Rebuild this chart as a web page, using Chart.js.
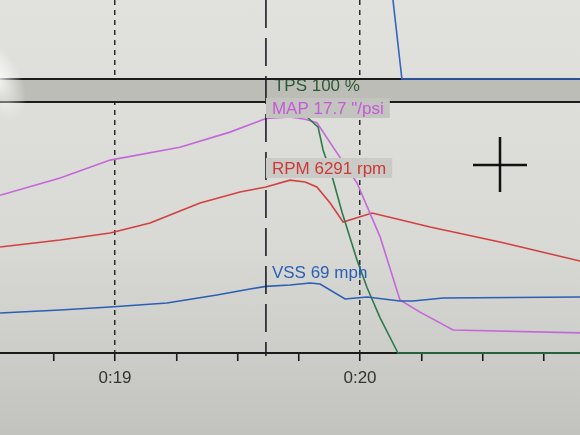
<!DOCTYPE html>
<html>
<head>
<meta charset="utf-8">
<title>Datalog</title>
<script src="https://cdn.jsdelivr.net/npm/chart.js@4.4.1/dist/chart.umd.min.js"></script>
<style>
    html, body { margin: 0; padding: 0; }
    body {
        width: 580px;
        height: 435px;
        overflow: hidden;
        background: linear-gradient(180deg, #e1e1de 0%, #d9d9d5 55%, #cdcdc9 80%, #c2c2be 100%);
    }
    .log { position: relative; width: 580px; height: 435px; }
    /* glare from the photo */
    .glare {
        position: absolute;
        left: -30px;
        top: 30px;
        width: 50px;
        height: 95px;
        background: radial-gradient(ellipse at center, rgba(255,255,255,0.9) 0%, rgba(255,255,255,0) 70%);
        transform: rotate(-30deg);
        pointer-events: none;
    }
</style>
</head>
<body>
<div class="log"><canvas id="logChart"></canvas><div class="glare"></div></div>
<script>
// time in seconds
const upperTime = [18.531, 20.120, 20.171, 20.898];
const upperValues = [140, 140, 0, 0];

const tpsTime = [18.531, 19.747, 19.784, 19.829, 19.849, 19.890, 19.927, 19.988, 20.029, 20.082, 20.155, 20.898];
const tpsValues = [100, 100, 94, 90, 81, 69, 56, 37, 26, 14, 0, 0];

const mapTime = [18.531, 18.776, 18.980, 19.265, 19.469, 19.616, 19.714, 19.776, 19.824, 19.906, 19.988, 20.082, 20.163, 20.245, 20.380, 20.898];
const mapValues = [7.0, 9.4, 11.9, 13.7, 15.8, 17.7, 17.9, 17.6, 17.1, 12.9, 8.7, 1.2, -7.6, -9.3, -11.8, -12.2];

const rpmTime = [18.531, 18.776, 18.980, 19.143, 19.347, 19.510, 19.616, 19.714, 19.776, 19.824, 19.878, 19.931, 20.049, 20.151, 20.286, 20.571, 20.898];
const rpmValues = [4380, 4600, 4825, 5140, 5780, 6130, 6291, 6510, 6450, 6290, 5780, 5175, 5460, 5270, 5015, 4540, 3930];

const vssTime = [18.531, 18.776, 18.980, 19.212, 19.416, 19.551, 19.616, 19.714, 19.796, 19.837, 19.939, 20.029, 20.163, 20.216, 20.339, 20.898];
const vssValues = [41.4, 44.5, 47.7, 51.8, 60.1, 66.3, 69, 70.4, 72.5, 71.5, 55.9, 58.0, 53.9, 53.9, 57.0, 58.0];

const cursorTime = 19.616;
const readouts = [
    { name: 'TPS', value: '100', unit: '%' },
    { name: 'MAP', value: '17.7', unit: '"/psi' },
    { name: 'RPM', value: '6291', unit: 'rpm' },
    { name: 'VSS', value: '69', unit: 'mph' }
];

const AREA_H = 353;
const BAND_TOP = 79;
const BAND_BOTTOM = 102;

// every channel gets its own hidden axis, placed inside its panel
function fitAxis(lo, hi, pTop, pBot) {
    const perPx = (hi - lo) / (pBot - pTop);
    return { min: lo - (AREA_H - pBot) * perPx, max: hi + pTop * perPx, display: false };
}

const pts = (t, v) => t.map((x, i) => ({ x: x, y: v[i] }));
const mainClip = { left: 0, right: 0, bottom: 4, top: -(BAND_BOTTOM + 1) };

const labelFont = '17px "Liberation Sans", Arial, sans-serif';
const tagText = r => r.name + ' ' + r.value + ' ' + r.unit;

function tag(ctx, text, x, y, color, bg) {
    ctx.font = labelFont;
    const w = ctx.measureText(text).width;
    if (bg) {
        ctx.fillStyle = bg;
        ctx.fillRect(x, y - 10, w + 12, 20);
    }
    ctx.fillStyle = color;
    ctx.textBaseline = 'middle';
    ctx.textAlign = 'left';
    ctx.fillText(text, x + 6, y + 1);
}

function hline(ctx, x1, x2, y) {
    ctx.beginPath();
    ctx.moveTo(x1, y);
    ctx.lineTo(x2, y);
    ctx.stroke();
}

const screenBits = {
    id: 'screenBits',
    beforeDatasetsDraw(chart) {
        const { ctx, width } = chart;
        const cx = chart.scales.x.getPixelForValue(cursorTime);
        ctx.save();
        ctx.fillStyle = '#bcbdb6';
        ctx.fillRect(0, BAND_TOP, width, BAND_BOTTOM - BAND_TOP);
        tag(ctx, tagText(readouts[0]), cx + 2, 85, '#2d5a36', null);
        ctx.strokeStyle = '#1b1b1b';
        ctx.lineWidth = 2;
        hline(ctx, 0, width, BAND_TOP);
        hline(ctx, 0, width, BAND_BOTTOM);
        ctx.restore();
    },
    afterDatasetsDraw(chart) {
        const { ctx } = chart;
        const cx = chart.scales.x.getPixelForValue(cursorTime);
        ctx.save();
        // cursor
        ctx.strokeStyle = '#1e1e2a';
        ctx.lineWidth = 1.6;
        ctx.setLineDash([28, 10]);
        ctx.beginPath();
        ctx.moveTo(cx, 0);
        ctx.lineTo(cx, 356);
        ctx.stroke();
        ctx.setLineDash([]);

        tag(ctx, tagText(readouts[1]), cx, 108, '#c45ad6', '#c3c3bf');
        tag(ctx, tagText(readouts[2]), cx, 168, '#cc3a3a', '#cacac6');
        tag(ctx, tagText(readouts[3]), cx, 272, '#2c5fb4', null);

        // crosshair
        ctx.strokeStyle = '#111';
        ctx.lineWidth = 2.5;
        hline(ctx, 473, 527, 165);
        ctx.beginPath();
        ctx.moveTo(500, 137);
        ctx.lineTo(500, 192);
        ctx.stroke();
        ctx.restore();
    }
};

const ctx = document.getElementById('logChart');

new Chart(ctx, {
    type: 'line',
    data: {
        datasets: [
            { label: 'Upper', data: pts(upperTime, upperValues), yAxisID: 'yUpper', borderColor: '#3464c2' },
            { label: 'VSS', data: pts(vssTime, vssValues), yAxisID: 'yVss', borderColor: '#2c5fb4', clip: mainClip },
            { label: 'TPS', data: pts(tpsTime, tpsValues), yAxisID: 'yTps', borderColor: '#2f7a4c', clip: mainClip },
            { label: 'MAP', data: pts(mapTime, mapValues), yAxisID: 'yMap', borderColor: '#c468d8', clip: mainClip },
            { label: 'RPM', data: pts(rpmTime, rpmValues), yAxisID: 'yRpm', borderColor: '#d2403f', clip: mainClip }
        ]
    },
    options: {
        responsive: true,
        maintainAspectRatio: false,
        animation: false,
        layout: { padding: 0 },
        elements: {
            point: { radius: 0 },
            line: { borderWidth: 1.6, tension: 0 }
        },
        plugins: {
            legend: { display: false },
            tooltip: { enabled: false }
        },
        scales: {
            x: {
                type: 'linear',
                min: 18.5306,
                max: 20.8979,
                afterFit: scale => { scale.height = 435 - AREA_H; },
                ticks: {
                    stepSize: 0.25,
                    includeBounds: false,
                    autoSkip: false,
                    maxRotation: 0,
                    padding: 7,
                    color: '#333',
                    font: { family: '"Liberation Sans", Arial, sans-serif', size: 17 },
                    callback: v => Number.isInteger(v) ? '0:' + v : ''
                },
                grid: {
                    tickLength: 8,
                    lineWidth: 1.5,
                    color: c => (c.tick && Number.isInteger(c.tick.value)) ? '#2a2a2a' : 'rgba(0,0,0,0)',
                    tickColor: c => (c.tick && Number.isInteger(c.tick.value * 4)) ? '#1b1b1b' : 'rgba(0,0,0,0)',
                    tickWidth: 1.6
                },
                border: { color: '#1b1b1b', width: 2, dash: [5, 5] }
            },
            yUpper: fitAxis(0, 100, 0, BAND_TOP),
            yTps: fitAxis(0, 100, BAND_BOTTOM, AREA_H),
            yMap: fitAxis(-15, 20, BAND_BOTTOM, AREA_H),
            yRpm: fitAxis(1000, 9000, BAND_BOTTOM, AREA_H),
            yVss: fitAxis(0, 260, BAND_BOTTOM, AREA_H)
        }
    },
    plugins: [screenBits]
});
</script>
</body>
</html>
